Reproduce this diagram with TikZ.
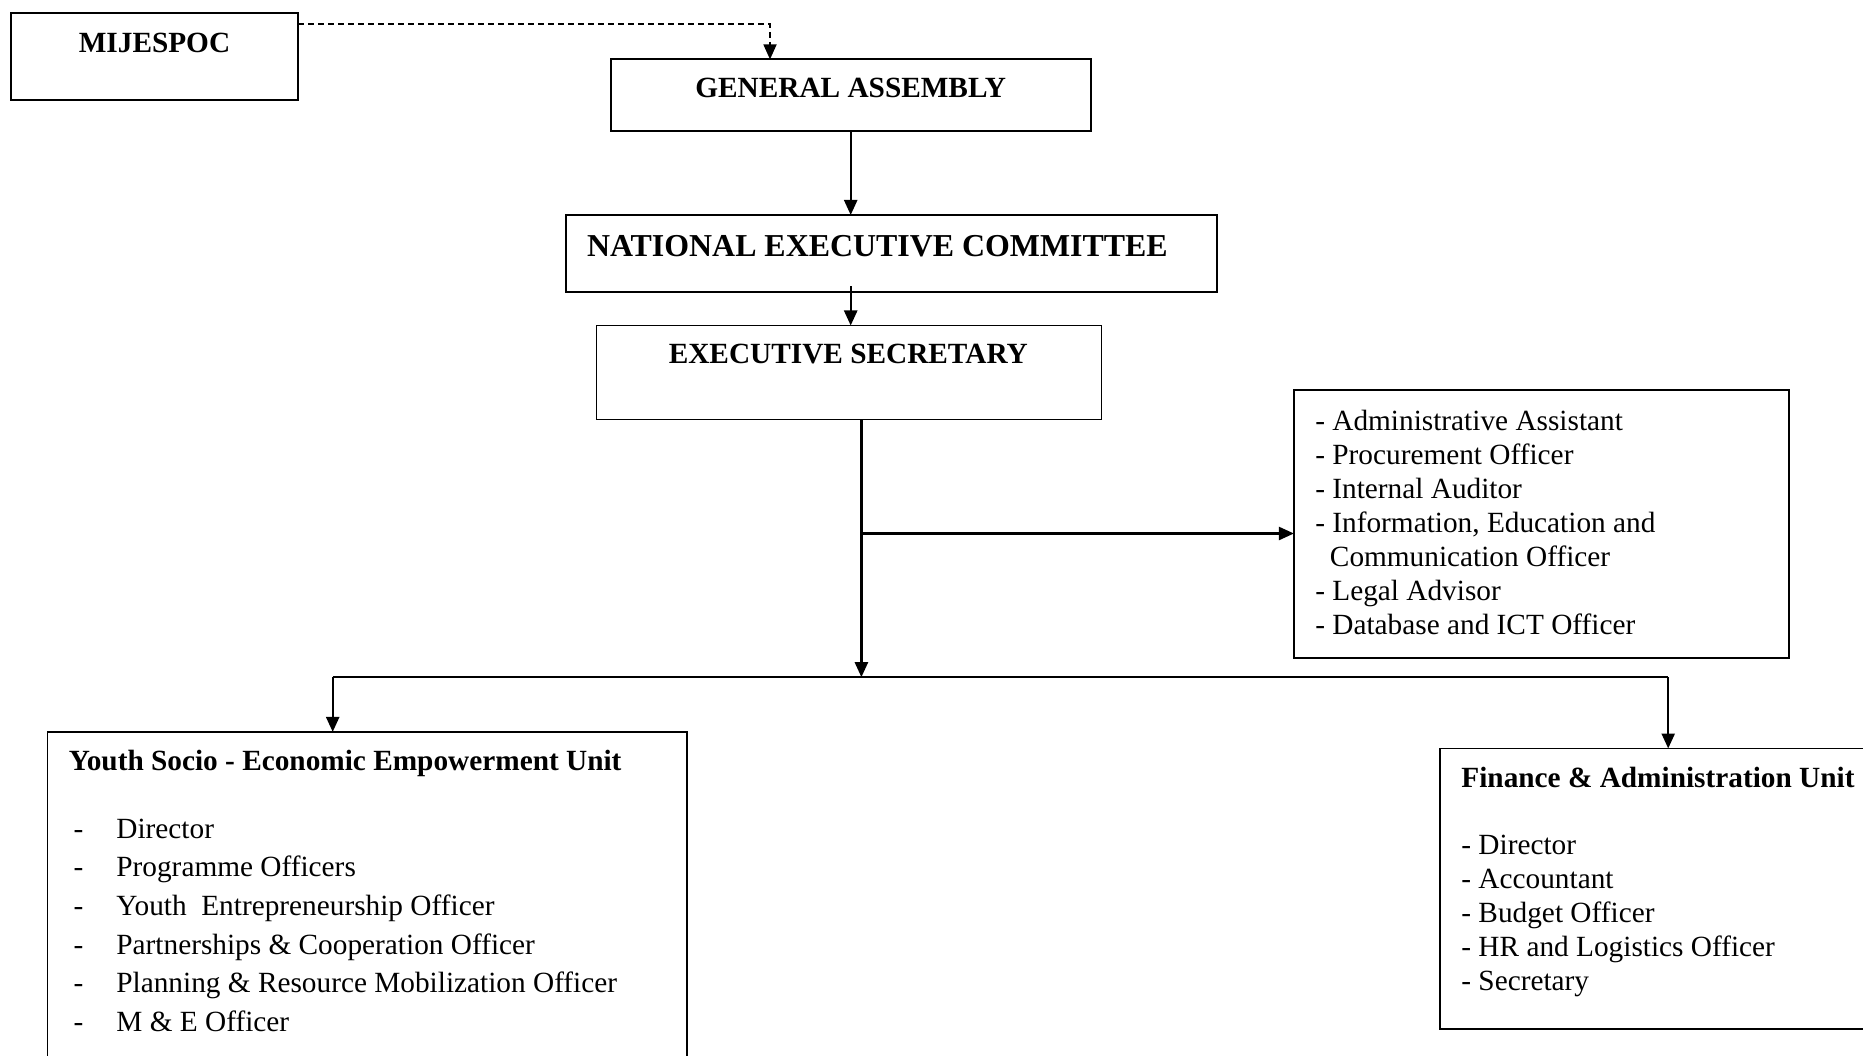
\documentclass[tikz,border=0pt]{standalone}
\usepackage{fontspec}
\setmainfont{Liberation Serif}
\usetikzlibrary{arrows.meta,calc}
\begin{document}
\begin{tikzpicture}[x=1pt,y=-1pt,
  box/.style={draw,line width=1.8pt,inner sep=0pt,outer sep=0pt,anchor=north west},
  txt/.style={inner sep=0pt,outer sep=0pt,font=\fontsize{29.3}{34}\selectfont},
  btxt/.style={txt,font=\fontsize{29.3}{34}\selectfont\bfseries},
  tip/.style={-{Triangle[length=15pt,width=13pt]}},
  conn/.style={line width=2.4pt,tip},
  plain/.style={line width=2.4pt}]
\useasboundingbox (0,0) rectangle (1863,1056);
% boxes
\node[box,minimum width=287.5pt,minimum height=86.7pt] (mij) at (10.7,13.1) {};
\node[box,minimum width=480pt,minimum height=71.3pt] (ga) at (610.7,59.4) {};
\node[box,minimum width=651.1pt,minimum height=77.3pt] (nec) at (565.6,215) {};
\node[box,minimum width=505pt,minimum height=93.9pt] (es) at (596.4,325.5) {};
\node[box,minimum width=495.4pt,minimum height=268.5pt] (staff) at (1293.9,389.7) {};
\node[box,minimum width=639.2pt,minimum height=360pt] (youth) at (47.5,731.9) {};
\node[box,minimum width=460pt,minimum height=280.4pt] (fin) at (1440,748.5) {};
% titles
\node[btxt,anchor=base] (mijt) at (154.5,52.5) {MIJESPOC};
\node[btxt,anchor=base] (gat) at (850.7,97.6) {GENERAL ASSEMBLY};
\node[txt,font=\fontsize{31.9}{36}\selectfont\bfseries,anchor=base west] (nect) at (587,256.5) {NATIONAL EXECUTIVE COMMITTEE};
\node[btxt,anchor=base] (est) at (848.3,364) {EXECUTIVE SECRETARY};
% staff list
\foreach \t [count=\i] in {{- Administrative Assistant},{- Procurement Officer},{- Internal Auditor},{- Information, Education and},{\hphantom{-}\,Communication Officer},{- Legal Advisor},{- Database and ICT Officer}}
  \node[txt,anchor=base west] (s\i) at (1315.3,{430.2+34.07*(\i-1)}) {\t};
% youth unit
\node[btxt,anchor=base west] (yt) at (68.9,770) {Youth Socio - Economic Empowerment Unit};
\foreach \t [count=\i] in {Director,Programme Officers,{Youth\ \ Entrepreneurship Officer},{Partnerships \& Cooperation Officer},{Planning \& Resource Mobilization Officer},{M \& E Officer}}{
  \node[txt,anchor=base west] (yd\i) at (73.7,{838+38.74*(\i-1)}) {-};
  \node[txt,anchor=base west] (yi\i) at (116.4,{838+38.74*(\i-1)}) {\t};
}
% finance unit
\node[btxt,anchor=base west] (ft) at (1461.4,787) {Finance \& Administration Unit};
\foreach \t [count=\i] in {- Director,- Accountant,- Budget Officer,- HR and Logistics Officer,- Secretary}
  \node[txt,anchor=base west] (f\i) at (1461.4,{854.8+33.85*(\i-1)}) {\t};
% connectors
\coordinate (d1) at (298.2,23.8);
\coordinate (d2) at (770,23.8);
\draw[line width=1.8pt,dash pattern=on 6pt off 4pt,tip] (d1) -- (d2) -- (d2 |- ga.north);
\draw[conn] (ga.south) -- (ga.south |- nec.north);
\coordinate (n1) at ($(ga.south |- nec.south)+(0,-6)$);
\draw[conn] (n1) -- (n1 |- es.north);
\coordinate (j) at (861.4,677.2);
\coordinate (b) at (861.4,533.5);
\draw[conn] (es.south -| j) -- (j);
\draw[conn] (b) -- (b -| staff.west);
\coordinate (yl) at (332.7,677.2);
\coordinate (fr) at (1668.2,677.2);
\draw[plain] (yl) -- (fr);
\draw[conn] (yl) -- (yl |- youth.north);
\draw[conn] (fr) -- (fr |- fin.north);
\end{tikzpicture}
\end{document}
